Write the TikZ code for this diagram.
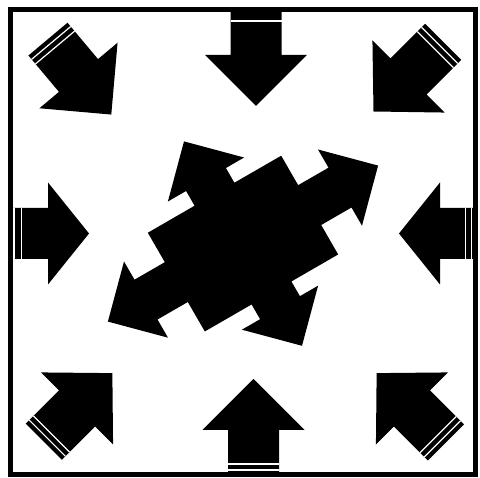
\documentclass[tikz,border=0pt]{standalone}
\begin{document}
\begin{tikzpicture}[x=1pt,y=1pt,
  stripe/.style={white, line width=1.2pt},
  pics/bigarrow/.style n args={3}{code={
    \fill[black] (-#1,-25.5) -- (0,-25.5) -- (0,-51) -- (#2,0) -- (0,51) -- (0,25.5) -- (-#1,25.5) -- cycle;
    \foreach \d in {#3} {\draw[stripe] ({-#1+\d},-25.5) -- ({-#1+\d},25.5);}
  }}]
\useasboundingbox (0,0) rectangle (480,478);
% edge arrows
\pic[rotate=-90] (top) at (256,423) {bigarrow={45}{51}{11}};
\pic[rotate=90] (bottom) at (253.5,48) {bigarrow={44.5}{51}{4.5,10.5}};
\pic (left) at (48,244.5) {bigarrow={38}{41}{4,11.5}};
\pic[rotate=180] (right) at (440,244.5) {bigarrow={35}{41}{3.5,9.5}};
% corner arrows
\pic[rotate=-50] (tl) at (78.5,402.5) {bigarrow={47.5}{51}{5,11}};
\pic[rotate=-135] (tr) at (408.5,401.5) {bigarrow={49}{49.5}{5,11}};
\pic[rotate=45] (bl) at (77,69.5) {bigarrow={47}{50}{5,11}};
\pic[rotate=135] (br) at (412,69.5) {bigarrow={48}{50}{5,11}};
% central shape
\fill[black, shift={(243,234.4)}, rotate=30]
  (156,0) -- (112,44) -- (112,23) -- (77,23) -- (77,57) -- (23,57) -- (23,74) -- (44,74)
  -- (0,118) -- (-44,74) -- (-23,74) -- (-23,57) -- (-77,57) -- (-77,23) -- (-112,23) -- (-112,44)
  -- (-156,0) -- (-112,-44) -- (-112,-23) -- (-77,-23) -- (-77,-57) -- (-23,-57) -- (-23,-74) -- (-44,-74)
  -- (0,-118) -- (44,-74) -- (23,-74) -- (23,-57) -- (77,-57) -- (77,-23) -- (112,-23) -- (112,-44) -- cycle;
% frame
\draw[line width=5pt] (10,3.5) rectangle (475,468);
\end{tikzpicture}
\end{document}
